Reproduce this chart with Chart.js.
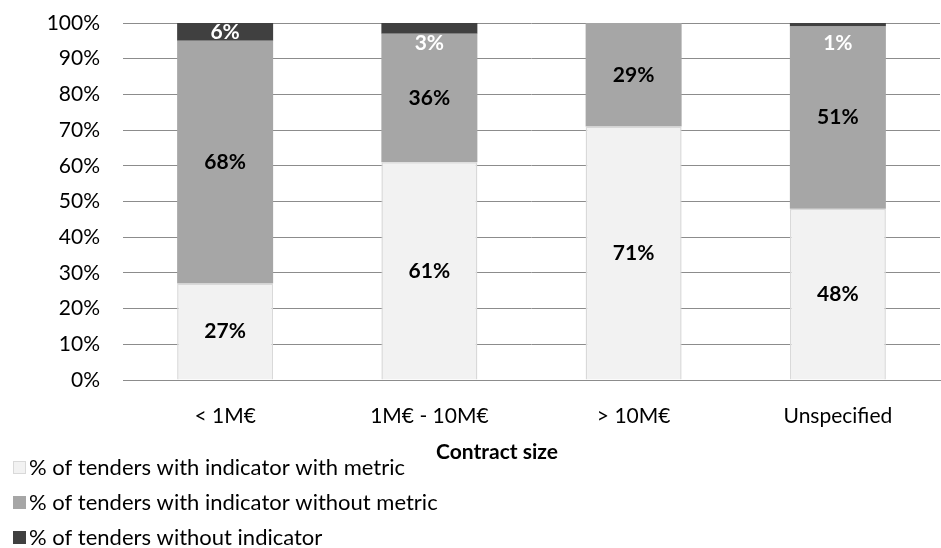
<!DOCTYPE html>
<html>
<head>
<meta charset="utf-8">
<script src="https://cdn.jsdelivr.net/npm/chart.js@4"></script>
<style>
  html, body { margin: 0; padding: 0; background: #ffffff; }
  #wrap { width: 941px; height: 548px; position: relative; }
</style>
</head>
<body>
<div id="wrap"><canvas id="c" width="941" height="548"></canvas></div>
<script>
// Contract size categories
const categories = ['< 1M\u20ac', '1M\u20ac - 10M\u20ac', '> 10M\u20ac', 'Unspecified'];

// Share of tenders (%) per contract size
const withMetric = [27, 61, 71, 48];
const withoutMetric = [68, 36, 29, 51];
const withoutIndicator = [6, 3, 0, 1];

const seriesNames = [
  '% of tenders with indicator with metric',
  '% of tenders with indicator without metric',
  '% of tenders without indicator'
];

const yTicks = [0, 10, 20, 30, 40, 50, 60, 70, 80, 90, 100];
const axisTitle = 'Contract size';

const FONT = 'Lato, Calibri, Carlito, sans-serif';
const fillColors = ['#f2f2f2', '#a6a6a6', '#404040'];
const labelColors = ['#000000', '#000000', '#ffffff'];

// Percent labels centred in each stacked segment; labels of very thin
// top segments are dropped just below the plot's upper edge
const segmentLabels = {
  id: 'segmentLabels',
  afterDatasetsDraw(chart) {
    const ctx = chart.ctx;
    const area = chart.chartArea;
    ctx.save();
    ctx.font = 'bold 21px ' + FONT;
    ctx.textAlign = 'center';
    ctx.textBaseline = 'middle';
    chart.data.datasets.forEach((ds, i) => {
      const meta = chart.getDatasetMeta(i);
      meta.data.forEach((el, j) => {
        const v = ds.data[j];
        if (!v) return;
        const top = Math.max(el.y, area.top);
        let y = (top + el.base) / 2;
        if (i === 2 && el.base - top < 15) y = area.top + 20;
        ctx.fillStyle = labelColors[i];
        ctx.fillText(v + '%', el.x, y);
      });
    });
    ctx.restore();
  }
};

// Axis title and stacked legend below the plot
const bottomBlock = {
  id: 'bottomBlock',
  afterDraw(chart) {
    const ctx = chart.ctx;
    ctx.save();
    ctx.fillStyle = '#000000';
    ctx.font = 'bold 21px ' + FONT;
    ctx.textAlign = 'center';
    ctx.textBaseline = 'middle';
    ctx.fillText(axisTitle, 497, 452);

    ctx.font = '22px ' + FONT;
    ctx.textAlign = 'left';
    chart.data.datasets.forEach((ds, i) => {
      const cy = 468 + i * 35;
      ctx.fillStyle = ds.backgroundColor;
      ctx.fillRect(13, cy - 7, 13, 13);
      if (i === 0) {
        ctx.strokeStyle = '#d9d9d9';
        ctx.lineWidth = 1;
        ctx.strokeRect(13.5, cy - 6.5, 12, 12);
      }
      ctx.fillStyle = '#000000';
      ctx.fillText(ds.label, 29, cy);
    });
    ctx.restore();
  }
};

const seriesValues = [withMetric, withoutMetric, withoutIndicator];

new Chart(document.getElementById('c'), {
  type: 'bar',
  data: {
    labels: categories,
    datasets: seriesValues.map((vals, i) => ({
      label: seriesNames[i],
      data: vals,
      backgroundColor: fillColors[i],
      borderColor: i === 0 ? '#d9d9d9' : fillColors[i],
      borderWidth: i === 0 ? 1.5 : 0,
      borderSkipped: i === 0 ? 'bottom' : false,
      categoryPercentage: 1,
      barPercentage: 0.47
    }))
  },
  options: {
    responsive: false,
    animation: false,
    devicePixelRatio: 1,
    layout: { padding: { top: 23, right: 1, left: 0, bottom: 0 } },
    plugins: {
      legend: { display: false },
      tooltip: { enabled: false }
    },
    scales: {
      x: {
        stacked: true,
        grid: { display: false, drawTicks: false },
        border: { display: true, color: '#8c8c8c', width: 1 },
        ticks: { color: '#000000', font: { family: FONT, size: 21 }, padding: 24 },
        afterFit(scale) { scale.height = 168; }
      },
      y: {
        stacked: true,
        min: 0,
        max: 100,
        afterBuildTicks(scale) { scale.ticks = yTicks.map(v => ({ value: v })); },
        grid: { color: '#8c8c8c', lineWidth: 1, drawTicks: false },
        border: { display: false },
        ticks: {
          color: '#000000',
          font: { family: FONT, size: 21 },
          padding: 23,
          callback: v => v + '%'
        },
        afterFit(scale) {
          scale.width = 123;
          scale.paddingTop = 0;
          scale.paddingBottom = 0;
        }
      }
    }
  },
  plugins: [segmentLabels, bottomBlock]
});
</script>
</body>
</html>
